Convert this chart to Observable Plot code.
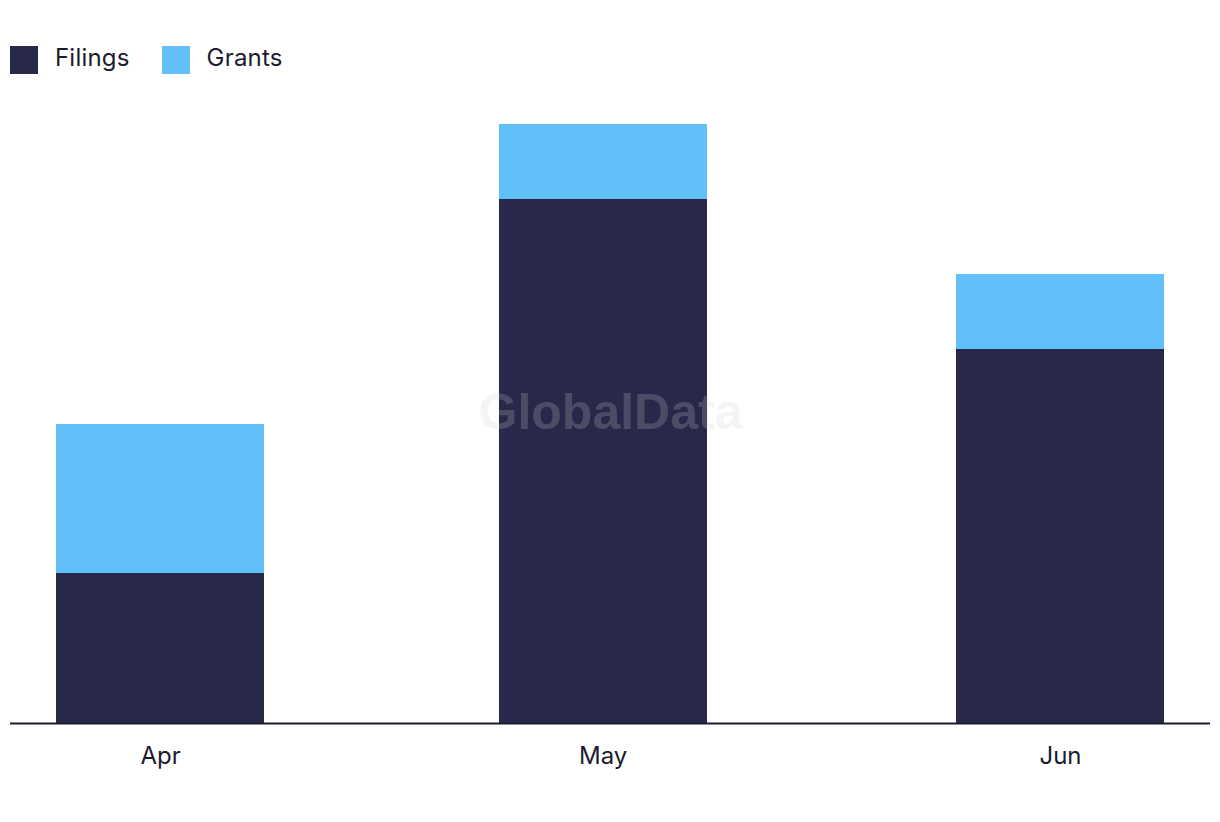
<!DOCTYPE html>
<html>
<head>
<meta charset="utf-8">
<script src="https://cdn.jsdelivr.net/npm/d3@7"></script>
<script src="https://cdn.jsdelivr.net/npm/@observablehq/plot@0.6"></script>
<style>
  html, body { margin: 0; padding: 0; background: #fff; }
  body { width: 1220px; height: 822px; position: relative; font-family: Inter, "Noto Sans", sans-serif; color: #1b1b2f; }
  #legend { position: absolute; left: 10px; top: 45px; display: flex; align-items: center; font-size: 24px; }
  .item { display: flex; align-items: center; margin-right: 32px; }
  .sw { width: 28px; height: 28px; margin-right: 17px; }
  .lbl { position: relative; top: -2px; letter-spacing: 0.2px; }
  #chart { position: absolute; left: 0; top: 90px; }
</style>
</head>
<body>
<div id="legend"></div>
<div id="chart"></div>
<script>
// Data
const months = ["2023-04-01", "2023-05-01", "2023-06-01"];
const monthLabels = ["Apr", "May", "Jun"];
const seriesNames = ["Filings", "Grants"];
const filings = [2, 7, 5];
const grants = [2, 1, 1];
const seriesColors = ["#28284a", "#61c0f8"];

const dates = months.map(d => new Date(d + "T00:00:00Z"));
const rows = [];
seriesNames.forEach((s, si) => {
  const vals = si === 0 ? filings : grants;
  dates.forEach((d, i) => rows.push({date: d, type: s, value: vals[i]}));
});

// legend
const legend = document.getElementById("legend");
seriesNames.forEach((s, i) => {
  const it = document.createElement("div");
  it.className = "item";
  it.innerHTML = `<span class="sw" style="background:${seriesColors[i]}"></span><span class="lbl">${s}</span>`;
  legend.appendChild(it);
});

const halfBarDays = 7.05;
const padDays = 10.17;
const dayMs = 86400000;

const chart = Plot.plot({
  width: 1220,
  height: 693,
  marginLeft: 10,
  marginRight: 10,
  marginTop: 34,
  marginBottom: 60,
  style: {fontFamily: "Inter, 'Noto Sans', sans-serif", fontSize: "24px", color: "#1b1b2f", background: "transparent"},
  x: {type: "utc", domain: [new Date(+dates[0] - padDays * dayMs), new Date(+dates[dates.length - 1] + padDays * dayMs)]},
  y: {domain: [0, 8], axis: null},
  color: {domain: seriesNames, range: seriesColors},
  marks: [
    Plot.rectY(rows, Plot.stackY({
      x: "date",
      x1: d => new Date(+d.date - halfBarDays * dayMs),
      x2: d => new Date(+d.date + halfBarDays * dayMs),
      y: "value",
      fill: "type",
      shapeRendering: "crispEdges"
    })),
    Plot.ruleY([0], {stroke: "#1b1b2f", strokeWidth: 2}),
    Plot.axisX({
      ticks: dates,
      tickSize: 0,
      tickPadding: 23,
      tickFormat: d => monthLabels[dates.findIndex(x => +x === +d)],
      fontSize: 24,
      fill: "#1b1b2f"
    }),
    Plot.text(["GlobalData"], {
      frameAnchor: "middle",
      dy: -11,
      fontSize: 50,
      fontWeight: "bold",
      fontFamily: "'Liberation Sans', Arial, sans-serif",
      fill: "#cfcfcf",
      fillOpacity: 0.22
    })
  ]
});
document.getElementById("chart").appendChild(chart);
</script>
</body>
</html>
